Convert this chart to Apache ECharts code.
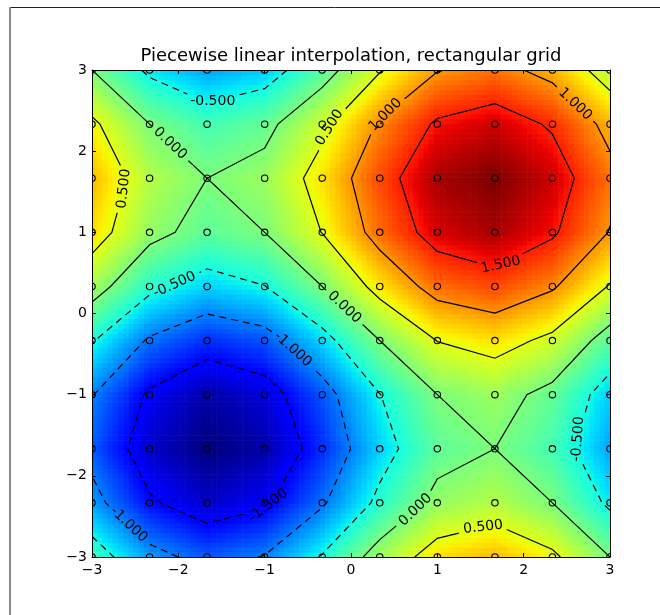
<!DOCTYPE html>
<html>
<head>
<meta charset="utf-8">
<title>Piecewise linear interpolation, rectangular grid</title>
<script src="https://cdn.jsdelivr.net/npm/echarts@6.0.0/dist/echarts.min.js"></script>
<style>
html, body { margin: 0; padding: 0; background: #ffffff; }
#chart { width: 660px; height: 615px; }
</style>
</head>
<body>
<div id="chart"></div>
<script>
// ---------------- data ----------------
const titleText = 'Piecewise linear interpolation, rectangular grid';
const gridX = [-3, -2.333, -1.667, -1, -0.333, 0.333, 1, 1.667, 2.333, 3];
const gridY = [-3, -2.333, -1.667, -1, -0.333, 0.333, 1, 1.667, 2.333, 3];
// node values: one row per gridY entry (bottom row first), one column per gridX entry
const zRows = [
  [-0.28, -0.86, -1.14, -0.98, -0.47,  0.19,  0.70,  0.85,  0.58,  0.00],
  [-0.86, -1.45, -1.72, -1.56, -1.05, -0.40,  0.12,  0.27,  0.00, -0.58],
  [-1.14, -1.72, -1.99, -1.84, -1.32, -0.67, -0.15,  0.00, -0.27, -0.85],
  [-0.98, -1.56, -1.84, -1.68, -1.17, -0.51,  0.00,  0.15, -0.12, -0.70],
  [-0.47, -1.05, -1.32, -1.17, -0.65,  0.00,  0.51,  0.67,  0.40, -0.19],
  [ 0.19, -0.40, -0.67, -0.51,  0.00,  0.65,  1.17,  1.32,  1.05,  0.47],
  [ 0.70,  0.12, -0.15,  0.00,  0.51,  1.17,  1.68,  1.84,  1.56,  0.98],
  [ 0.85,  0.27,  0.00,  0.15,  0.67,  1.32,  1.84,  1.99,  1.72,  1.14],
  [ 0.58,  0.00, -0.27, -0.12,  0.40,  1.05,  1.56,  1.72,  1.45,  0.86],
  [ 0.00, -0.58, -0.85, -0.70, -0.19,  0.47,  0.98,  1.14,  0.86,  0.28]
];
const contourLevels = [-1.5, -1.0, -0.5, 0.0, 0.5, 1.0, 1.5];
const axisTicks = [-3, -2, -1, 0, 1, 2, 3];
// where the contour labels sit (data space, like clabel manual positions)
const labelLevel = [-0.5, 0.0, 0.5, -0.5, -1.0, -1.0, -1.5, 0.0, 0.0, 0.5, -0.5, 0.5, 1.0, 1.0, 1.5];
const labelNearX = [-1.60, -2.10, -2.64, -2.06, -0.69, -2.60, -0.92, -0.10, 0.74, 1.53, 2.61, -0.27, 0.39, 2.56, 1.73];
const labelNearY = [ 2.61,  2.09,  1.54,  0.39, -0.46, -2.63, -2.41,  0.05, -2.41, -2.63, -1.54, 2.30, 2.46, 2.54, 0.61];

// ---------------- rendering parameters ----------------
const RASTER_N = 100;
const FONT = 'DejaVu Sans';
const LABEL_SIZE = 14;
const LABEL_FONT = LABEL_SIZE + 'px "' + FONT + '"';
const LABEL_PAD = 5;
const LINE_W = 1.2;

const xMin = gridX[0], xMax = gridX[gridX.length - 1];
const yMin = gridY[0], yMax = gridY[gridY.length - 1];

// piecewise-linear (bilinear per cell) interpolation of the node values
function valueAt(x, y) {
  let i = 0; while (i < gridX.length - 2 && x > gridX[i + 1]) i++;
  let j = 0; while (j < gridY.length - 2 && y > gridY[j + 1]) j++;
  const u = (x - gridX[i]) / (gridX[i + 1] - gridX[i]);
  const v = (y - gridY[j]) / (gridY[j + 1] - gridY[j]);
  return zRows[j][i] * (1 - u) * (1 - v) + zRows[j][i + 1] * u * (1 - v) +
         zRows[j + 1][i] * (1 - u) * v + zRows[j + 1][i + 1] * u * v;
}

const cellW = (xMax - xMin) / RASTER_N, cellH = (yMax - yMin) / RASTER_N;
const raster = [];
let vmin = Infinity, vmax = -Infinity;
for (let r = 0; r < RASTER_N; r++) {
  for (let c = 0; c < RASTER_N; c++) {
    const xc = xMin + (c + 0.5) * cellW, yc = yMin + (r + 0.5) * cellH;
    const z = valueAt(xc, yc);
    vmin = Math.min(vmin, z); vmax = Math.max(vmax, z);
    raster.push([xc, yc, z]);
  }
}

// matplotlib "jet"
const JET_R = [[0, 0], [0.35, 0], [0.66, 1], [0.89, 1], [1, 0.5]];
const JET_G = [[0, 0], [0.125, 0], [0.375, 1], [0.64, 1], [0.91, 0], [1, 0]];
const JET_B = [[0, 0.5], [0.11, 1], [0.34, 1], [0.65, 0], [1, 0]];
function segInterp(t, pts) {
  for (let k = 1; k < pts.length; k++) {
    if (t <= pts[k][0]) {
      const t0 = pts[k - 1][0], v0 = pts[k - 1][1], t1 = pts[k][0], v1 = pts[k][1];
      return v0 + (v1 - v0) * (t - t0) / (t1 - t0);
    }
  }
  return pts[pts.length - 1][1];
}
function jet(t) {
  t = Math.max(0, Math.min(1, t));
  t = Math.min(255, Math.floor(t * 256)) / 255;
  return 'rgb(' + Math.round(segInterp(t, JET_R) * 255) + ',' +
    Math.round(segInterp(t, JET_G) * 255) + ',' + Math.round(segInterp(t, JET_B) * 255) + ')';
}

// marching squares on the node grid
function buildContours(level) {
  const segs = [];
  const crossAt = (xa, ya, za, xb, yb, zb) => {
    const t = (level - za) / (zb - za);
    return [xa + t * (xb - xa), ya + t * (yb - ya)];
  };
  for (let j = 0; j < gridY.length - 1; j++) {
    for (let i = 0; i < gridX.length - 1; i++) {
      const x0 = gridX[i], x1 = gridX[i + 1], y0 = gridY[j], y1 = gridY[j + 1];
      const a = zRows[j][i], b = zRows[j][i + 1], c = zRows[j + 1][i + 1], d = zRows[j + 1][i];
      const A = a >= level, B = b >= level, C = c >= level, D = d >= level;
      const p = {};
      if (A !== B) p.bottom = crossAt(x0, y0, a, x1, y0, b);
      if (B !== C) p.right = crossAt(x1, y0, b, x1, y1, c);
      if (D !== C) p.top = crossAt(x0, y1, d, x1, y1, c);
      if (A !== D) p.left = crossAt(x0, y0, a, x0, y1, d);
      const ks = Object.keys(p);
      if (ks.length === 2) segs.push([p[ks[0]], p[ks[1]]]);
      else if (ks.length === 4) {
        const centerAbove = (a + b + c + d) / 4 >= level;
        if (centerAbove === A) { segs.push([p.bottom, p.right]); segs.push([p.top, p.left]); }
        else { segs.push([p.bottom, p.left]); segs.push([p.right, p.top]); }
      }
    }
  }
  const key = q => q[0].toFixed(6) + ',' + q[1].toFixed(6);
  const good = segs.filter(s => key(s[0]) !== key(s[1]));
  const nodes = new Map();
  good.forEach((s, idx) => {
    [0, 1].forEach(e => {
      const k = key(s[e]);
      if (!nodes.has(k)) nodes.set(k, []);
      nodes.get(k).push(idx);
    });
  });
  const used = new Array(good.length).fill(false);
  const nextFrom = (pt) => {
    const list = nodes.get(key(pt)) || [];
    for (const idx of list) {
      if (!used[idx]) {
        used[idx] = true;
        const s = good[idx];
        return key(s[0]) === key(pt) ? s[1] : s[0];
      }
    }
    return null;
  };
  const lines = [];
  const order = [];
  good.forEach((s, idx) => {
    const open = (nodes.get(key(s[0])).length === 1) || (nodes.get(key(s[1])).length === 1);
    order.push([open ? 0 : 1, idx]);
  });
  order.sort((u, v) => u[0] - v[0]);
  for (const o of order) {
    const idx = o[1];
    if (used[idx]) continue;
    used[idx] = true;
    let s = good[idx];
    if (nodes.get(key(s[1])).length === 1) s = [s[1], s[0]];
    const pts = [s[0], s[1]];
    let nx;
    while ((nx = nextFrom(pts[pts.length - 1])) !== null) pts.push(nx);
    while ((nx = nextFrom(pts[0])) !== null) pts.unshift(nx);
    const closed = pts.length > 3 && key(pts[0]) === key(pts[pts.length - 1]);
    lines.push({ pts, closed });
  }
  return lines;
}

const gridPoints = [];
gridY.forEach(y => gridX.forEach(x => gridPoints.push([x, y])));

const chart = echarts.init(document.getElementById('chart'), null, { renderer: 'canvas', width: 660, height: 615 });

const tickFmt = v => (v < 0 ? '\u2212' + Math.abs(v) : String(v));
const axisCommon = {
  type: 'value',
  min: axisTicks[0],
  max: axisTicks[axisTicks.length - 1],
  interval: axisTicks[1] - axisTicks[0],
  z: 10,
  axisLine: { show: true, onZero: false, lineStyle: { color: '#000', width: 1 } },
  axisTick: { show: true, inside: true, length: 4, lineStyle: { color: '#000', width: 1 } },
  splitLine: { show: false },
  axisLabel: { show: false }
};
const labelStyle = { show: true, color: '#000', fontFamily: FONT, fontSize: 14, formatter: tickFmt };

chart.setOption({
  animation: false,
  backgroundColor: '#ffffff',
  title: {
    text: titleText, left: 351, top: 47, textAlign: 'center', padding: 0,
    textStyle: { fontFamily: FONT, fontSize: 18, fontWeight: 'normal', color: '#000' }
  },
  grid: { left: 92, top: 70, width: 518, height: 487, containLabel: false, outerBoundsMode: 'none', show: false },
  xAxis: [
    Object.assign({}, axisCommon, { position: 'bottom', axisLabel: Object.assign({}, labelStyle, { margin: 6 }) }),
    Object.assign({}, axisCommon, { position: 'top' })
  ],
  yAxis: [
    Object.assign({}, axisCommon, { position: 'left', axisLabel: Object.assign({}, labelStyle, { margin: 5 }) }),
    Object.assign({}, axisCommon, { position: 'right' })
  ],
  graphic: [
    { type: 'line', silent: true, shape: { x1: 9, y1: 7.5, x2: 660, y2: 7.5 }, style: { stroke: '#222', lineWidth: 1 } },
    { type: 'line', silent: true, shape: { x1: 10, y1: 7, x2: 10, y2: 615 }, style: { stroke: '#888', lineWidth: 2 } }
  ],
  series: []
});

// ---------------- contour geometry in pixel space (via the chart's scales) ----------------
const toPx = p => chart.convertToPixel({ xAxisIndex: 0, yAxisIndex: 0 }, p);
const contourLines = [];
contourLevels.forEach(level => {
  buildContours(level).forEach(l => {
    const pxs = l.pts.map(toPx);
    const cum = [0];
    for (let k = 1; k < pxs.length; k++) cum.push(cum[k - 1] + Math.hypot(pxs[k][0] - pxs[k - 1][0], pxs[k][1] - pxs[k - 1][1]));
    contourLines.push({ level, pts: l.pts, pxs, cum, closed: l.closed, cuts: [] });
  });
});
function pointAt(ln, s) {
  const cum = ln.cum;
  const total = cum[cum.length - 1];
  s = Math.max(0, Math.min(total, s));
  let k = 0;
  while (k < cum.length - 2 && cum[k + 1] < s) k++;
  const L = cum[k + 1] - cum[k];
  const t = L > 0 ? (s - cum[k]) / L : 0;
  const a = ln.pts[k], b = ln.pts[k + 1], pa = ln.pxs[k], pb = ln.pxs[k + 1];
  return {
    data: [a[0] + t * (b[0] - a[0]), a[1] + t * (b[1] - a[1])],
    px: [pa[0] + t * (pb[0] - pa[0]), pa[1] + t * (pb[1] - pa[1])]
  };
}

const measureCtx = document.createElement('canvas').getContext('2d');
measureCtx.font = LABEL_FONT;
const labels = [];
labelLevel.forEach((lev, k) => {
  const target = toPx([labelNearX[k], labelNearY[k]]);
  let best = null;
  contourLines.forEach((ln, li) => {
    if (Math.abs(ln.level - lev) > 1e-9) return;
    for (let m = 0; m < ln.pxs.length - 1; m++) {
      const a = ln.pxs[m], b = ln.pxs[m + 1];
      const vx = b[0] - a[0], vy = b[1] - a[1];
      const L2 = vx * vx + vy * vy;
      if (L2 === 0) continue;
      let t = ((target[0] - a[0]) * vx + (target[1] - a[1]) * vy) / L2;
      t = Math.max(0, Math.min(1, t));
      const d = Math.hypot(a[0] + t * vx - target[0], a[1] + t * vy - target[1]);
      if (!best || d < best.d) best = { d, li, s: ln.cum[m] + t * Math.sqrt(L2) };
    }
  });
  if (!best) return;
  const ln = contourLines[best.li];
  const total = ln.cum[ln.cum.length - 1];
  const text = lev.toFixed(3);
  const w = measureCtx.measureText(text).width;
  const wrap = s => ln.closed ? ((s % total) + total) % total : Math.max(0, Math.min(total, s));
  const pa = pointAt(ln, wrap(best.s - w / 2)).px, pb = pointAt(ln, wrap(best.s + w / 2)).px;
  let ang = Math.atan2(-(pb[1] - pa[1]), pb[0] - pa[0]);
  if (ang > Math.PI / 2 + 1e-6) ang -= Math.PI;
  if (ang <= -Math.PI / 2 + 1e-6) ang += Math.PI;
  labels.push({ text, pt: pointAt(ln, best.s).data, rot: ang });
  let lo = best.s - w / 2 - LABEL_PAD, hi = best.s + w / 2 + LABEL_PAD;
  if (ln.closed) {
    if (lo < 0) { ln.cuts.push([lo + total, total]); lo = 0; }
    if (hi > total) { ln.cuts.push([0, hi - total]); hi = total; }
  }
  ln.cuts.push([Math.max(0, lo), Math.min(total, hi)]);
});

const pieces = [];
contourLines.forEach(ln => {
  const total = ln.cum[ln.cum.length - 1];
  const cuts = ln.cuts.slice().sort((u, v) => u[0] - v[0]);
  const keep = [];
  let cur = 0;
  cuts.forEach(c => { if (c[0] > cur) keep.push([cur, c[0]]); cur = Math.max(cur, c[1]); });
  if (cur < total) keep.push([cur, total]);
  keep.forEach(r => {
    if (r[1] - r[0] < 0.5) return;
    const pts = [pointAt(ln, r[0]).data];
    for (let k = 0; k < ln.pts.length; k++) if (ln.cum[k] > r[0] && ln.cum[k] < r[1]) pts.push(ln.pts[k]);
    pts.push(pointAt(ln, r[1]).data);
    pieces.push({ level: ln.level, pts });
  });
});

chart.setOption({
  series: [
    {
      type: 'custom', name: 'field', coordinateSystem: 'cartesian2d', xAxisIndex: 0, yAxisIndex: 0,
      clip: true, silent: true, z: 1, animation: false,
      data: raster,
      renderItem: (params, api) => {
        const x = api.value(0), y = api.value(1), z = api.value(2);
        const p0 = api.coord([x - cellW / 2, y + cellH / 2]);
        const p1 = api.coord([x + cellW / 2, y - cellH / 2]);
        return {
          type: 'rect',
          shape: { x: p0[0], y: p0[1], width: p1[0] - p0[0] + 0.6, height: p1[1] - p0[1] + 0.6 },
          style: { fill: jet((z - vmin) / (vmax - vmin)), stroke: null }
        };
      }
    },
    {
      type: 'custom', name: 'contours', coordinateSystem: 'cartesian2d', xAxisIndex: 0, yAxisIndex: 0,
      clip: true, silent: true, z: 3, animation: false,
      data: pieces.map((pc, k) => [pc.pts[0][0], pc.pts[0][1], k]),
      renderItem: (params, api) => {
        const pc = pieces[api.value(2)];
        return {
          type: 'polyline',
          shape: { points: pc.pts.map(p => api.coord(p)) },
          style: { stroke: '#000', lineWidth: LINE_W, fill: 'none', lineDash: pc.level < 0 ? [7, 5] : null }
        };
      }
    },
    {
      type: 'custom', name: 'contour labels', coordinateSystem: 'cartesian2d', xAxisIndex: 0, yAxisIndex: 0,
      clip: true, silent: true, z: 4, animation: false,
      data: labels.map((lb, k) => [lb.pt[0], lb.pt[1], k]),
      renderItem: (params, api) => {
        const lb = labels[api.value(2)];
        const p = api.coord(lb.pt);
        return {
          type: 'text', x: p[0], y: p[1], rotation: lb.rot,
          style: {
            text: lb.text, font: LABEL_FONT, fill: '#000',
            textAlign: 'center', textVerticalAlign: 'middle', align: 'center', verticalAlign: 'middle'
          }
        };
      }
    },
    {
      type: 'custom', name: 'nodes', coordinateSystem: 'cartesian2d', xAxisIndex: 0, yAxisIndex: 0,
      clip: true, silent: true, z: 5, animation: false,
      data: gridPoints,
      renderItem: (params, api) => {
        const p = api.coord([api.value(0), api.value(1)]);
        return { type: 'circle', shape: { cx: p[0], cy: p[1], r: 3.2 }, style: { fill: 'none', stroke: '#000', lineWidth: 1.1 } };
      }
    }
  ]
});
</script>
</body>
</html>
